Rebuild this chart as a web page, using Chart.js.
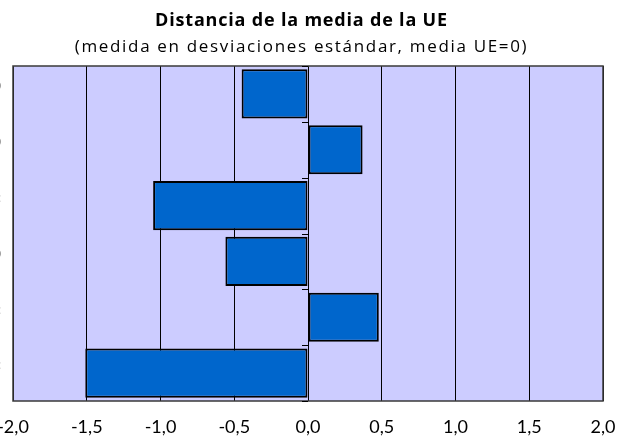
<!DOCTYPE html>
<html>
<head>
<meta charset="utf-8">
<script src="https://cdn.jsdelivr.net/npm/chart.js@4/dist/chart.umd.min.js"></script>
<style>
  html, body { margin: 0; padding: 0; background: #fff; overflow: hidden; }
  #wrap { position: absolute; left: 0; top: 0; width: 618px; height: 439px; }
</style>
</head>
<body>
<div id="wrap"><canvas id="c" width="618" height="439"></canvas></div>
<script>
// Category labels (only their trailing characters are visible in the reference)
const categories = [["…)", ""], ["…)", ""], ["…:", ""], ["…)", ""], ["…:", ""], ["…:", ""]];
// Distance from EU mean, in standard deviations
const values = [-0.45, 0.37, -1.05, -0.56, 0.48, -1.51];
// X axis ticks
const xMin = -2.0, xMax = 2.0, xStep = 0.5;

const titleText = "Distancia de la media de la UE";
const subtitleText = "(medida en desviaciones estándar, media UE=0)";

const titleFont = { family: 'Open Sans', size: 18, weight: 'bold' };
const subtitleFont = { family: 'Open Sans', size: 17 };
// target rendered widths (px) of the stretched title texts
const titleWidth = 292, subtitleWidth = 452;

function fontString(f) {
  return (f.weight ? f.weight + ' ' : '') + f.size + 'px "' + f.family + '"';
}

const plotBg = {
  id: 'plotBg',
  beforeDraw(chart) {
    const {ctx, chartArea: a} = chart;
    chart.boxes.forEach(b => {
      if (b._lsWrapped || !b.options) return;
      let target = null, font = null, text = null;
      if (b.options.text === titleText) { target = titleWidth; font = titleFont; text = titleText; }
      else if (b.options.text === subtitleText) { target = subtitleWidth; font = subtitleFont; text = subtitleText; }
      if (target) {
        ctx.save();
        ctx.font = fontString(font);
        const w = ctx.measureText(text).width;
        ctx.restore();
        const ls = Math.max(0, (target - w) / (text.length - 1));
        const orig = b.draw;
        b.draw = function(arg) {
          const c = this.ctx;
          c.save();
          c.letterSpacing = ls.toFixed(2) + 'px';
          orig.call(this, arg);
          c.restore();
        };
        b._lsWrapped = true;
      }
    });
    ctx.save();
    ctx.fillStyle = '#CCCCFF';
    ctx.fillRect(a.left, a.top, a.right - a.left, a.bottom - a.top);
    ctx.restore();
  },
  afterDraw(chart) {
    const {ctx, chartArea: a, scales} = chart;
    ctx.save();
    ctx.strokeStyle = '#3a3a3a';
    ctx.lineWidth = 1.5;
    ctx.strokeRect(a.left, a.top, a.right - a.left, a.bottom - a.top);
    // category axis tick marks at the zero line, between categories
    const x0 = scales.x.getPixelForValue(0);
    const y = scales.y;
    ctx.strokeStyle = '#000';
    ctx.lineWidth = 1;
    const n = categories.length;
    for (let i = 0; i <= n; i++) {
      let py;
      if (i === 0) py = a.top;
      else if (i === n) py = a.bottom;
      else py = (y.getPixelForValue(i - 1) + y.getPixelForValue(i)) / 2;
      ctx.beginPath();
      ctx.moveTo(x0 - 6, Math.round(py) + 0.5);
      ctx.lineTo(x0, Math.round(py) + 0.5);
      ctx.stroke();
    }
    ctx.restore();
  }
};

new Chart(document.getElementById('c'), {
  type: 'bar',
  data: {
    labels: categories,
    datasets: [{
      data: values,
      backgroundColor: '#0066CC',
      borderColor: '#000000',
      borderWidth: 2,
      borderSkipped: false,
      categoryPercentage: 0.88,
      barPercentage: 1.0
    }]
  },
  options: {
    indexAxis: 'y',
    responsive: false,
    animation: false,
    devicePixelRatio: 1,
    layout: { padding: { left: 0, right: 15, top: 0, bottom: 0 } },
    plugins: {
      legend: { display: false },
      tooltip: { enabled: false },
      title: {
        display: true,
        text: titleText,
        color: '#000',
        font: titleFont,
        padding: { top: 10, bottom: 5 }
      },
      subtitle: {
        display: true,
        text: subtitleText,
        color: '#000',
        font: subtitleFont,
        padding: { top: 0, bottom: 9 }
      }
    },
    scales: {
      x: {
        min: xMin, max: xMax,
        ticks: {
          stepSize: xStep,
          color: '#000',
          font: { family: 'Lato', size: 18 },
          padding: 15,
          maxRotation: 0,
          callback: v => v.toFixed(1).replace('.', ',')
        },
        grid: { color: '#000', lineWidth: 1, drawTicks: false },
        border: { display: false },
        afterFit(scale) { scale.paddingLeft = 0; scale.paddingRight = 0; scale.height = 38; }
      },
      y: {
        ticks: {
          color: '#000',
          font: { family: 'Lato', size: 13 },
          padding: 12
        },
        grid: { display: false, drawTicks: false },
        border: { display: false },
        afterFit(scale) { scale.width = 13; scale.paddingTop = 0; scale.paddingBottom = 0; }
      }
    }
  },
  plugins: [plotBg]
});
</script>
</body>
</html>
